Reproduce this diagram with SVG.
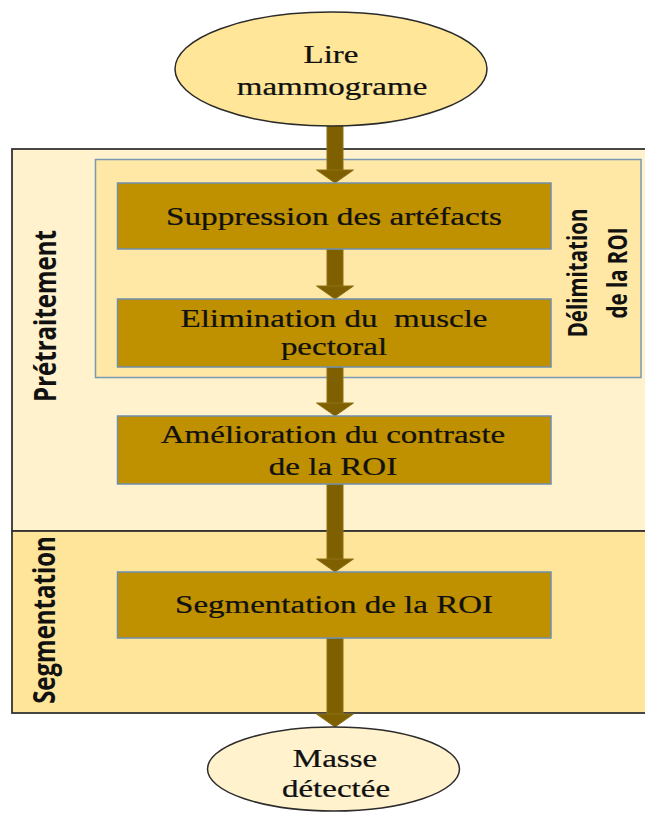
<svg xmlns="http://www.w3.org/2000/svg" width="645" height="814" viewBox="0 0 645 814">
  <style>
    .lbl { font-family: "Liberation Serif", "Times New Roman", serif; font-size: 25px; fill: #111111; stroke: #111111; stroke-width: 0.25; text-anchor: middle; }
    .side { font-family: "Open Sans", "Noto Sans", "DejaVu Sans", sans-serif; font-weight: bold; fill: #111; text-anchor: middle; }
    .step { fill: #bf9000; stroke: #6f8fae; stroke-width: 1.5; }
    .term { stroke: #2b2b2b; stroke-width: 1.5; }
    .arrow { fill: #7f6000; stroke: #8f7016; stroke-width: 1; }
  </style>

  <rect width="645" height="814" fill="#ffffff"/>

  <!-- stage areas -->
  <g id="stage-pretraitement">
    <rect x="12" y="149" width="640" height="382" fill="#fff2cc" stroke="#333333" stroke-width="1.8"/>
    <text class="side" font-size="24" transform="translate(56,316) rotate(-90) scale(1,1.3)">Prétraitement</text>
  </g>
  <g id="stage-segmentation">
    <rect x="12" y="531" width="640" height="182" fill="#ffe599" stroke="#333333" stroke-width="1.8"/>
    <text class="side" font-size="24" transform="translate(55,620) rotate(-90) scale(1,1.3)">Segmentation</text>
  </g>
  <g id="roi-delimitation">
    <rect x="95.5" y="159.5" width="545.5" height="218" fill="#ffe8a6" stroke="#7a98b3" stroke-width="1.5"/>
    <text class="side" font-size="20.5" transform="translate(587,273) rotate(-90) scale(1,1.3)">Délimitation</text>
    <text class="side" font-size="20.5" transform="translate(627,273) rotate(-90) scale(1,1.3)">de la ROI</text>
  </g>

  <!-- connectors: shaft 16 wide, head 37 wide x 13 high -->
  <g id="connectors" class="arrow">
    <rect x="327" y="120" width="16" height="51"/>
    <path d="M316.5,170 L353.5,170 L335,183 Z"/>
    <rect x="327" y="249" width="16" height="38"/>
    <path d="M316.5,286 L353.5,286 L335,299 Z"/>
    <rect x="327" y="367" width="16" height="37"/>
    <path d="M316.5,403 L353.5,403 L335,416 Z"/>
    <rect x="327" y="484" width="16" height="76"/>
    <path d="M316.5,559 L353.5,559 L335,572 Z"/>
    <rect x="327" y="638" width="16" height="77"/>
    <path d="M316.5,714 L353.5,714 L335,727 Z"/>
  </g>

  <!-- nodes -->
  <g id="lire-mammogramme">
    <ellipse class="term" cx="331" cy="69" rx="156" ry="57" fill="#ffe699"/>
    <text class="lbl" transform="translate(331,63) scale(1.32,1)">Lire</text>
    <text class="lbl" transform="translate(332,95) scale(1.32,1)">mammograme</text>
  </g>
  <g id="suppression-artefacts">
    <rect class="step" x="117.5" y="183" width="433.5" height="66"/>
    <text class="lbl" transform="translate(334,225) scale(1.33,1)">Suppression des artéfacts</text>
  </g>
  <g id="elimination-muscle">
    <rect class="step" x="117.5" y="299" width="433.5" height="68"/>
    <text class="lbl" xml:space="preserve" transform="translate(334,327) scale(1.32,1)">Elimination du  muscle</text>
    <text class="lbl" transform="translate(334,355) scale(1.32,1)">pectoral</text>
  </g>
  <g id="amelioration-contraste">
    <rect class="step" x="117.5" y="416" width="433.5" height="68"/>
    <text class="lbl" transform="translate(333,443) scale(1.32,1)">Amélioration du contraste</text>
    <text class="lbl" transform="translate(333,475) scale(1.32,1)">de la ROI</text>
  </g>
  <g id="segmentation-roi">
    <rect class="step" x="117.5" y="572" width="433.5" height="66"/>
    <text class="lbl" transform="translate(334,613) scale(1.32,1)">Segmentation de la ROI</text>
  </g>
  <g id="masse-detectee">
    <ellipse class="term" cx="333.5" cy="769" rx="126" ry="42" fill="#fff2cc"/>
    <text class="lbl" transform="translate(335,767) scale(1.32,1)">Masse</text>
    <text class="lbl" transform="translate(336,797) scale(1.32,1)">détectée</text>
  </g>
</svg>
